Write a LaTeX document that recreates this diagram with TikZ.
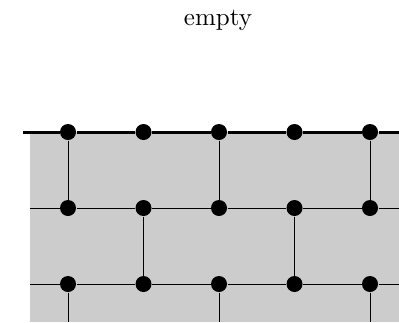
\documentclass[tikz,border=0pt]{standalone}
\usetikzlibrary{positioning}

\begin{document}
\begin{tikzpicture}[x=0.4pt,y=0.4pt,dot/.style={circle,fill,inner sep=0pt,minimum size=6.4pt}]
\useasboundingbox (0,0) rectangle (399,322);
\fill[black!20] (30,0) rectangle (399,190);
\node[anchor=base] (lbl) at (218,297) {empty};
\foreach \r/\y in {1/190,2/114,3/38} { \foreach \c in {1,...,5} { \node[dot] (p\r\c) at ({68+75.5*(\c-1)},\y) {}; } }
\coordinate (topl) at (23,190); \coordinate (topr) at (399,190);
\coordinate (midl) at (30,114); \coordinate (midr) at (399,114);
\coordinate (lowl) at (30,38); \coordinate (lowr) at (399,38);
\coordinate (bot) at (0,0);
\draw[line width=1.2pt] (topl) -- (p11) -- (p12) -- (p13) -- (p14) -- (p15) -- (topr);
\draw (midl) -- (p21) -- (p22) -- (p23) -- (p24) -- (p25) -- (midr);
\draw (lowl) -- (p31) -- (p32) -- (p33) -- (p34) -- (p35) -- (lowr);
\foreach \c in {1,3,5} { \draw (p1\c) -- (p2\c); \draw (p3\c) -- (p3\c |- bot); }
\foreach \c in {2,4} { \draw (p2\c) -- (p3\c); }
\end{tikzpicture}
\end{document}
